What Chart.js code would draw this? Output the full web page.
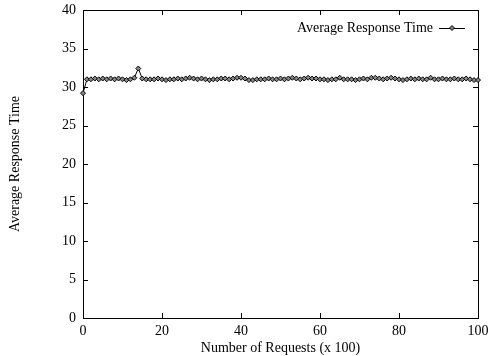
<!DOCTYPE html>
<html>
<head>
<meta charset="utf-8">
<script src="https://cdn.jsdelivr.net/npm/chart.js@4/dist/chart.umd.min.js"></script>
<style>
  html, body { margin: 0; padding: 0; background: #fff; }
  #wrap { width: 488px; height: 356px; }
</style>
</head>
<body>
<div id="wrap"><canvas id="chart" width="488" height="356"></canvas></div>
<script>
// Data
const requests = [
    0, 1, 2, 3, 4, 5, 6, 7, 8, 9,
    10, 11, 12, 13, 14, 15, 16, 17, 18, 19,
    20, 21, 22, 23, 24, 25, 26, 27, 28, 29,
    30, 31, 32, 33, 34, 35, 36, 37, 38, 39,
    40, 41, 42, 43, 44, 45, 46, 47, 48, 49,
    50, 51, 52, 53, 54, 55, 56, 57, 58, 59,
    60, 61, 62, 63, 64, 65, 66, 67, 68, 69,
    70, 71, 72, 73, 74, 75, 76, 77, 78, 79,
    80, 81, 82, 83, 84, 85, 86, 87, 88, 89,
    90, 91, 92, 93, 94, 95, 96, 97, 98, 99,
    100,
];
const responseTime = [
    29.2, 31.0, 31.0, 31.1, 31.0, 31.1, 31.0, 31.1, 31.0, 31.1,
    31.0, 30.9, 31.0, 31.2, 32.4, 31.1, 31.0, 31.0, 31.0, 31.1,
    31.0, 30.9, 31.0, 31.0, 31.1, 31.0, 31.1, 31.2, 31.1, 31.0,
    31.1, 31.0, 30.9, 31.0, 31.0, 31.1, 31.1, 31.0, 31.1, 31.2,
    31.2, 31.1, 30.9, 30.9, 31.0, 31.0, 31.0, 31.1, 31.0, 31.0,
    31.1, 31.0, 31.1, 31.2, 31.1, 31.0, 31.1, 31.2, 31.1, 31.1,
    31.0, 31.0, 30.9, 31.0, 31.0, 31.2, 31.0, 31.0, 31.0, 30.9,
    31.0, 31.1, 31.0, 31.2, 31.2, 31.1, 31.0, 31.1, 31.2, 31.1,
    31.0, 30.9, 31.0, 31.1, 31.0, 31.1, 31.0, 31.0, 31.2, 31.0,
    31.0, 31.1, 31.0, 31.0, 31.1, 31.0, 31.0, 31.1, 31.0, 30.9,
    30.9,
];
const seriesLabel = 'Average Response Time';
const xTitle = 'Number of Requests (x 100)';
const yTitle = 'Average Response Time';

const FONT = '"Liberation Serif", "Times New Roman", serif';

// gnuplot style frame: box border, inward mirrored ticks, legend with sample after text
const gnuplotFrame = {
    id: 'gnuplotFrame',
    beforeDatasetsDraw(chart) {
        const { ctx, chartArea: a, scales } = chart;
        const tick = 5;
        ctx.save();
        ctx.strokeStyle = '#000';
        ctx.lineWidth = 1;
        ctx.strokeRect(Math.round(a.left) + 0.5, Math.round(a.top) + 0.5,
            Math.round(a.right - a.left), Math.round(a.bottom - a.top));

        ctx.beginPath();
        scales.x.ticks.forEach(t => {
            const px = Math.round(scales.x.getPixelForValue(t.value)) + 0.5;
            ctx.moveTo(px, a.bottom); ctx.lineTo(px, a.bottom - tick);
            ctx.moveTo(px, a.top); ctx.lineTo(px, a.top + tick);
        });
        scales.y.ticks.forEach(t => {
            const py = Math.round(scales.y.getPixelForValue(t.value)) + 0.5;
            ctx.moveTo(a.left, py); ctx.lineTo(a.left + tick, py);
            ctx.moveTo(a.right, py); ctx.lineTo(a.right - tick, py);
        });
        ctx.stroke();
        ctx.restore();
    },
    afterDraw(chart) {
        const { ctx, chartArea: a } = chart;
        ctx.save();
        ctx.strokeStyle = '#000';
        ctx.lineWidth = 1;
        // legend
        const ly = a.top + 18;
        const lineEnd = a.right - 13;
        const lineStart = lineEnd - 26;
        ctx.font = '14px ' + FONT;
        ctx.fillStyle = '#000';
        ctx.textAlign = 'right';
        ctx.textBaseline = 'middle';
        ctx.fillText(seriesLabel, lineStart - 6, ly);
        ctx.beginPath();
        ctx.moveTo(lineStart, ly + 0.5); ctx.lineTo(lineEnd, ly + 0.5);
        ctx.stroke();
        const mx = (lineStart + lineEnd) / 2;
        ctx.beginPath();
        ctx.moveTo(mx, ly - 2.5); ctx.lineTo(mx + 2.5, ly); ctx.lineTo(mx, ly + 2.5); ctx.lineTo(mx - 2.5, ly);
        ctx.closePath();
        ctx.fillStyle = '#888';
        ctx.fill();
        ctx.stroke();
        ctx.restore();
    },
};

new Chart(document.getElementById('chart'), {
    type: 'line',
    data: {
        datasets: [{
            label: seriesLabel,
            data: requests.map((x, i) => ({ x, y: responseTime[i] })),
            borderColor: '#000',
            borderWidth: 1,
            pointStyle: 'rectRot',
            pointRadius: 2.5,
            pointBorderWidth: 1,
            pointBorderColor: '#000',
            pointBackgroundColor: '#888',
            tension: 0,
            fill: false,
            clip: false,
        }],
    },
    options: {
        responsive: false,
        animation: false,
        layout: { padding: { left: 0, top: 10, right: 10, bottom: 0 } },
        plugins: {
            legend: { display: false },
            tooltip: { enabled: false },
        },
        scales: {
            x: {
                type: 'linear',
                min: 0,
                max: 100,
                grid: { display: false, drawTicks: false },
                border: { display: false },
                ticks: { stepSize: 20, color: '#000', padding: 5, maxRotation: 0, font: { family: FONT, size: 14 } },
                title: { display: true, text: xTitle, color: '#000', padding: { top: 0, bottom: 0 }, font: { family: FONT, size: 14, lineHeight: 1.1 } },
                afterFit(scale) {
                    scale.height = 38;
                    scale.paddingLeft = 0;
                    scale.paddingRight = 0;
                },
            },
            y: {
                min: 0,
                max: 40,
                grid: { display: false, drawTicks: false },
                border: { display: false },
                ticks: { stepSize: 5, color: '#000', padding: 7, font: { family: FONT, size: 14 } },
                title: { display: true, text: yTitle, color: '#000', padding: { top: 7, bottom: 0 }, font: { family: FONT, size: 14 } },
                afterFit(scale) {
                    scale.width = 83;
                    scale.paddingTop = 0;
                    scale.paddingBottom = 0;
                },
            },
        },
    },
    plugins: [gnuplotFrame],
});
</script>
</body>
</html>
